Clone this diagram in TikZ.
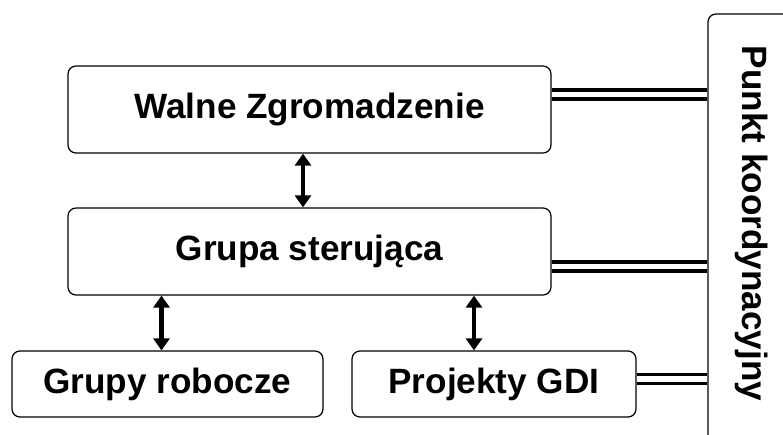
\documentclass[tikz,border=0pt]{standalone}
\usepackage{fontspec}
\setmainfont{Liberation Sans}
\usetikzlibrary{arrows.meta,positioning}

\begin{document}
\begin{tikzpicture}[
	box/.style={draw, line width=0.7pt, rounded corners=0.16cm, inner sep=0pt},
	lbl/.style={font=\fontsize{20}{23}\selectfont\bfseries},
	dbl/.style={double, line width=2pt, double distance=3pt},
	arr/.style={line width=2.8pt, {Triangle[width=0.32cm,length=0.24cm]}-{Triangle[width=0.32cm,length=0.24cm]}}
	]
	\useasboundingbox (0,0) rectangle (15.66,-8.68);
	% boxes
	\node[box, lbl, minimum width=9.66cm, minimum height=1.74cm] (walne) at (6.19,-2.19) {Walne Zgromadzenie};
	\node[box, lbl, minimum width=9.66cm, minimum height=1.74cm] (grupa) at (6.19,-5.03) {Grupa steruj\k{a}ca};
	\node[box, lbl, minimum width=6.22cm, minimum height=1.32cm] (robocze) at (3.35,-7.68) {Grupy robocze};
	\node[box, lbl, minimum width=5.68cm, minimum height=1.32cm] (gdi) at (9.88,-7.68) {Projekty GDI};
	\node[box, minimum width=2.34cm, minimum height=8.72cm] (punkt) at (15.33,-4.64) {};
	\node[lbl, rotate=-90] (punkttxt) at (15.04,-4.47) {Punkt koordynacyjny};
	% arrows
	\draw[arr] ([xshift=-0.13cm]walne.south) -- ([xshift=-0.13cm]grupa.north);
	\draw[arr] ([xshift=-0.12cm]robocze.north) -- ([xshift=-0.12cm]robocze.north |- grupa.south);
	\draw[arr] ([xshift=-0.4cm]gdi.north) -- ([xshift=-0.4cm]gdi.north |- grupa.south);
	% links to punkt
	\draw[dbl] ([yshift=0.3cm]walne.east) -- ([yshift=0.3cm]walne.east -| punkt.west);
	\draw[dbl] ([yshift=-0.3cm]grupa.east) -- ([yshift=-0.3cm]grupa.east -| punkt.west);
	\draw[dbl] ([yshift=0.1cm]gdi.east) -- ([yshift=0.1cm]gdi.east -| punkt.west);
\end{tikzpicture}
\end{document}
